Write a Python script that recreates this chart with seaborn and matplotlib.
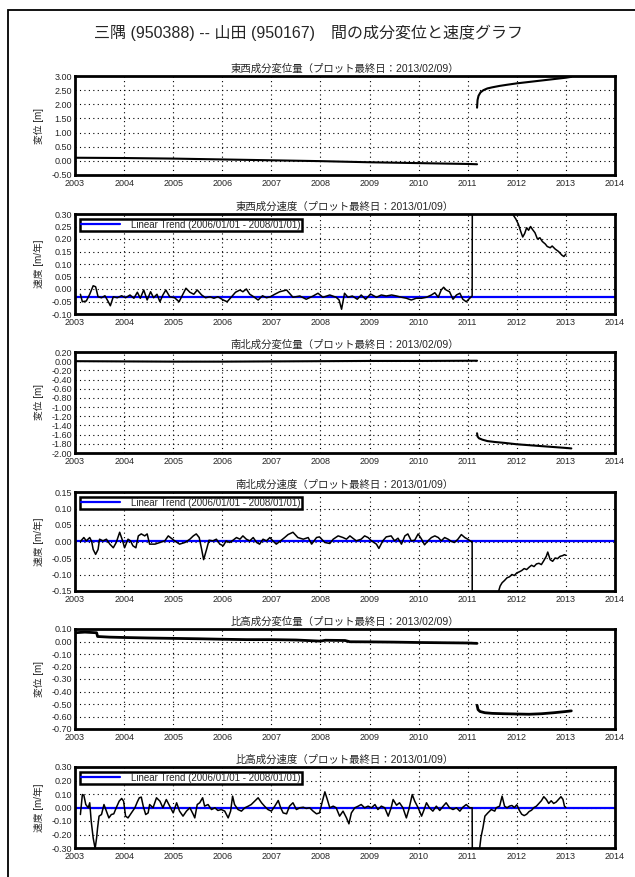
import pandas as pd
import matplotlib
matplotlib.use("Agg")
import matplotlib.pyplot as plt
import matplotlib.ticker as mticker
from matplotlib.patches import Rectangle
import seaborn as sns

# -------------------------
# Data
# -------------------------
years = list(range(2003, 2015))
trend_label = "Linear Trend (2006/01/01 - 2008/01/01)"

# 東西 displacement [m]
ew_d_pre_t = [2003.0, 2003.5, 2004.0, 2004.5, 2005.0, 2005.5, 2006.0, 2006.5, 2007.0,
              2007.5, 2008.0, 2008.5, 2009.0, 2009.5, 2010.0, 2010.5, 2011.0, 2011.19]
ew_d_pre_v = [0.11, 0.105, 0.10, 0.09, 0.08, 0.065, 0.05, 0.035, 0.02,
              0.005, -0.01, -0.03, -0.05, -0.065, -0.08, -0.095, -0.11, -0.12]
ew_d_post_t = [2011.19, 2011.20, 2011.22, 2011.26, 2011.32, 2011.40, 2011.50, 2011.65,
               2011.80, 2012.0, 2012.25, 2012.5, 2012.75, 2013.0, 2013.11]
ew_d_post_v = [1.88, 2.15, 2.30, 2.42, 2.50, 2.56, 2.60, 2.65,
               2.69, 2.74, 2.79, 2.84, 2.89, 2.94, 2.97]

# 東西 velocity [m/yr]
ew_v_pre_t = [2003.11, 2003.15, 2003.23, 2003.30, 2003.37, 2003.42, 2003.47, 2003.54, 2003.61,
              2003.67, 2003.72, 2003.78, 2003.86, 2003.95, 2004.03, 2004.12, 2004.20, 2004.27,
              2004.33, 2004.40, 2004.47, 2004.54, 2004.60, 2004.67, 2004.73, 2004.79, 2004.85,
              2004.93, 2005.03, 2005.12, 2005.19, 2005.26, 2005.34, 2005.42, 2005.49, 2005.58,
              2005.66, 2005.75, 2005.83, 2005.91, 2006.02, 2006.10, 2006.19, 2006.27, 2006.36,
              2006.42, 2006.49, 2006.56, 2006.64, 2006.73, 2006.82, 2006.90, 2006.98, 2007.07,
              2007.17, 2007.31, 2007.44, 2007.58, 2007.71, 2007.85, 2007.95, 2008.05, 2008.19,
              2008.32, 2008.38, 2008.43, 2008.49, 2008.56, 2008.65, 2008.75, 2008.83, 2008.92,
              2009.02, 2009.14, 2009.24, 2009.34, 2009.45, 2009.55, 2009.65, 2009.75, 2009.85,
              2009.95, 2010.06, 2010.16, 2010.26, 2010.33, 2010.40, 2010.46, 2010.51, 2010.56,
              2010.63, 2010.70, 2010.77, 2010.84, 2010.90, 2010.97, 2011.04, 2011.09, 2011.10]
ew_v_pre_v = [-0.021, -0.051, -0.048, -0.021, 0.013, 0.009, -0.031, -0.035, -0.027,
              -0.048, -0.067, -0.031, -0.035, -0.027, -0.035, -0.024, -0.037, -0.013,
              -0.037, -0.004, -0.044, -0.011, -0.035, -0.021, -0.051, -0.024, -0.004,
              -0.031, -0.035, -0.051, -0.024, 0.003, -0.013, -0.021, -0.004, -0.024,
              -0.035, -0.031, -0.037, -0.031, -0.044, -0.051, -0.031, -0.013, -0.004,
              -0.011, 0.000, -0.021, -0.031, -0.044, -0.027, -0.035, -0.031, -0.021,
              -0.011, -0.004, -0.033, -0.028, -0.041, -0.028, -0.017, -0.033, -0.024,
              -0.033, -0.044, -0.081, -0.017, -0.033, -0.028, -0.041, -0.024, -0.041,
              -0.020, -0.033, -0.024, -0.028, -0.024, -0.028, -0.033, -0.037, -0.044,
              -0.037, -0.037, -0.033, -0.024, -0.015, -0.033, -0.004, 0.007, -0.004,
              -0.011, -0.041, -0.024, -0.017, -0.041, -0.051, -0.037, -0.028, 1.0]
ew_v_post_t = [2011.88, 2011.93, 2011.98, 2012.03, 2012.08, 2012.12, 2012.16, 2012.20, 2012.24,
               2012.28, 2012.32, 2012.37, 2012.42, 2012.47, 2012.52, 2012.58, 2012.62, 2012.68,
               2012.72, 2012.78, 2012.85, 2012.92, 2012.96, 2013.00]
ew_v_post_v = [0.33, 0.295, 0.28, 0.26, 0.23, 0.208, 0.222, 0.245, 0.235,
               0.25, 0.238, 0.225, 0.20, 0.205, 0.19, 0.18, 0.17, 0.165,
               0.172, 0.16, 0.15, 0.135, 0.13, 0.14]
ew_trend = -0.030

# 南北 displacement [m]
ns_d_pre_t = [2003.0, 2004.0, 2005.0, 2006.0, 2007.0, 2008.0, 2009.0, 2010.0, 2011.19]
ns_d_pre_v = [0.0, -0.005, -0.01, -0.01, -0.005, 0.0, 0.005, 0.005, 0.01]
ns_d_post_t = [2011.19, 2011.20, 2011.23, 2011.30, 2011.40, 2011.55, 2011.75, 2012.0,
               2012.25, 2012.5, 2012.75, 2013.0, 2013.11]
ns_d_post_v = [-1.57, -1.64, -1.68, -1.71, -1.74, -1.76, -1.78, -1.81,
               -1.83, -1.85, -1.87, -1.89, -1.90]

# 南北 velocity [m/yr]
ns_v_pre_t = [2003.11, 2003.18, 2003.23, 2003.30, 2003.34, 2003.37, 2003.42, 2003.47, 2003.50,
              2003.57, 2003.64, 2003.71, 2003.78, 2003.84, 2003.91, 2003.97, 2004.01, 2004.08,
              2004.13, 2004.18, 2004.24, 2004.29, 2004.35, 2004.42, 2004.47, 2004.52, 2004.63,
              2004.73, 2004.83, 2004.90, 2004.96, 2005.03, 2005.13, 2005.24, 2005.34, 2005.41,
              2005.47, 2005.53, 2005.58, 2005.62, 2005.68, 2005.73, 2005.81, 2005.88, 2005.95,
              2006.02, 2006.08, 2006.15, 2006.22, 2006.29, 2006.36, 2006.42, 2006.49, 2006.56,
              2006.63, 2006.70, 2006.76, 2006.83, 2006.90, 2006.97, 2007.03, 2007.10, 2007.17,
              2007.27, 2007.34, 2007.44, 2007.54, 2007.65, 2007.75, 2007.82, 2007.92, 2007.98,
              2008.09, 2008.19, 2008.26, 2008.36, 2008.46, 2008.53, 2008.60, 2008.66, 2008.73,
              2008.83, 2008.90, 2008.97, 2009.04, 2009.14, 2009.19, 2009.27, 2009.34, 2009.44,
              2009.51, 2009.58, 2009.65, 2009.72, 2009.78, 2009.85, 2009.92, 2009.99, 2010.06,
              2010.12, 2010.19, 2010.26, 2010.33, 2010.40, 2010.46, 2010.53, 2010.60, 2010.67,
              2010.73, 2010.80, 2010.87, 2010.94, 2011.00, 2011.07, 2011.09, 2011.10]
ns_v_pre_v = [0.000, 0.012, 0.002, 0.012, 0.000, -0.024, -0.039, -0.024, 0.007,
              0.002, 0.007, -0.008, -0.019, -0.003, 0.028, 0.002, -0.019, 0.007,
              0.002, -0.013, -0.019, 0.017, 0.023, 0.017, 0.023, -0.008, -0.008,
              -0.003, 0.002, 0.017, 0.010, 0.002, -0.008, -0.003, 0.007, 0.017,
              0.023, 0.012, -0.024, -0.055, -0.024, 0.004, 0.002, 0.007, -0.008,
              -0.013, 0.002, -0.003, 0.004, 0.012, 0.007, 0.017, 0.007, 0.002,
              0.012, -0.003, -0.008, 0.007, 0.002, 0.012, 0.002, -0.008, 0.000,
              0.012, 0.021, 0.028, 0.012, 0.007, 0.012, -0.008, 0.012, 0.014,
              -0.003, -0.006, 0.007, 0.017, 0.012, 0.007, 0.017, 0.010, 0.002,
              0.007, 0.017, 0.012, 0.002, -0.008, -0.021, 0.002, 0.014, 0.017,
              0.002, 0.010, -0.008, 0.017, 0.023, 0.002, 0.004, 0.023, 0.007,
              -0.010, 0.002, 0.012, 0.017, 0.012, 0.002, 0.012, 0.007, 0.000,
              -0.003, 0.007, 0.021, 0.012, 0.007, 0.000, 0.000, -1.0]
ns_v_post_t = [2011.60, 2011.63, 2011.66, 2011.70, 2011.75, 2011.80, 2011.85, 2011.90, 2011.95,
               2012.00, 2012.05, 2012.10, 2012.15, 2012.20, 2012.25, 2012.30, 2012.35, 2012.40,
               2012.45, 2012.50, 2012.55, 2012.60, 2012.63, 2012.68, 2012.73, 2012.78, 2012.83,
               2012.88, 2012.93, 2012.97, 2013.00]
ns_v_post_v = [-0.16, -0.15, -0.135, -0.125, -0.118, -0.11, -0.107, -0.100, -0.103,
               -0.095, -0.092, -0.088, -0.082, -0.085, -0.078, -0.072, -0.076, -0.068,
               -0.066, -0.070, -0.058, -0.045, -0.032, -0.055, -0.060, -0.050, -0.052,
               -0.045, -0.043, -0.040, -0.042]
ns_trend = 0.003

# 比高 displacement [m]
ud_d_pre_t = [2003.0, 2003.2, 2003.44, 2003.46, 2003.7, 2004.0, 2004.5, 2005.0, 2005.5, 2006.0,
              2006.5, 2007.0, 2007.5, 2008.0, 2008.1, 2008.5, 2008.6, 2009.0, 2009.5, 2010.0,
              2010.5, 2011.0, 2011.19]
ud_d_pre_v = [0.07, 0.075, 0.07, 0.04, 0.035, 0.032, 0.028, 0.025, 0.022, 0.018,
              0.015, 0.015, 0.012, 0.003, 0.01, 0.008, -0.002, -0.003, -0.005, -0.008,
              -0.01, -0.012, -0.015]
ud_d_post_t = [2011.19, 2011.21, 2011.25, 2011.35, 2011.5, 2011.75, 2012.0, 2012.25, 2012.5,
               2012.75, 2013.0, 2013.11]
ud_d_post_v = [-0.51, -0.545, -0.56, -0.57, -0.575, -0.578, -0.58, -0.582, -0.578,
               -0.57, -0.56, -0.555]

# 比高 velocity [m/yr]
ud_v_pre_t = [2003.11, 2003.15, 2003.18, 2003.22, 2003.27, 2003.30, 2003.33, 2003.37, 2003.41,
              2003.44, 2003.46, 2003.49, 2003.54, 2003.59, 2003.64, 2003.69, 2003.74, 2003.79,
              2003.84, 2003.90, 2003.95, 2003.99, 2004.03, 2004.08, 2004.15, 2004.22, 2004.27,
              2004.31, 2004.35, 2004.39, 2004.44, 2004.49, 2004.52, 2004.59, 2004.66, 2004.73,
              2004.79, 2004.86, 2004.93, 2005.00, 2005.07, 2005.13, 2005.20, 2005.27, 2005.34,
              2005.41, 2005.44, 2005.49, 2005.54, 2005.60, 2005.64, 2005.71, 2005.78, 2005.85,
              2005.91, 2005.98, 2006.05, 2006.12, 2006.17, 2006.21, 2006.25, 2006.32, 2006.39,
              2006.46, 2006.53, 2006.59, 2006.66, 2006.73, 2006.80, 2006.86, 2006.93, 2007.00,
              2007.07, 2007.14, 2007.19, 2007.24, 2007.31, 2007.37, 2007.44, 2007.51, 2007.58,
              2007.65, 2007.71, 2007.78, 2007.85, 2007.92, 2007.98, 2008.04, 2008.09, 2008.14,
              2008.19, 2008.26, 2008.32, 2008.39, 2008.46, 2008.53, 2008.58, 2008.63, 2008.70,
              2008.77, 2008.83, 2008.90, 2008.97, 2009.04, 2009.11, 2009.17, 2009.24, 2009.31,
              2009.38, 2009.44, 2009.48, 2009.55, 2009.61, 2009.68, 2009.75, 2009.80, 2009.87,
              2009.92, 2009.99, 2010.06, 2010.10, 2010.16, 2010.22, 2010.29, 2010.36, 2010.43,
              2010.50, 2010.56, 2010.63, 2010.70, 2010.77, 2010.84, 2010.90, 2010.97, 2011.04,
              2011.09, 2011.10]
ud_v_pre_v = [-0.052, 0.096, 0.091, 0.022, -0.002, 0.035, -0.101, -0.225, -0.305,
              -0.225, -0.151, -0.064, -0.052, 0.022, -0.027, -0.077, -0.052, -0.047,
              -0.002, 0.047, 0.067, 0.047, -0.064, -0.077, -0.040, -0.002, 0.042,
              0.072, 0.077, 0.010, -0.052, -0.040, 0.022, -0.002, 0.072, 0.047,
              -0.002, 0.059, 0.010, -0.040, 0.035, -0.027, -0.064, -0.027, -0.002,
              -0.052, -0.077, 0.022, 0.035, 0.072, 0.010, 0.022, -0.015, -0.002,
              -0.022, -0.015, -0.027, -0.077, -0.027, 0.084, 0.022, -0.015, -0.027,
              -0.002, 0.010, 0.022, 0.047, 0.072, 0.035, 0.010, -0.015, -0.027,
              0.010, 0.052, -0.002, -0.040, -0.047, 0.010, 0.035, -0.015, -0.002,
              0.002, -0.007, -0.002, -0.027, -0.047, -0.040, 0.047, 0.116, 0.059,
              -0.002, 0.010, -0.002, -0.064, -0.027, -0.077, -0.121, -0.040, -0.002,
              0.010, 0.022, -0.002, 0.010, -0.002, 0.022, -0.015, 0.010, -0.002,
              -0.064, -0.002, 0.059, 0.017, 0.035, -0.002, -0.077, -0.015, 0.096,
              0.047, -0.002, -0.064, -0.027, 0.035, -0.002, -0.027, 0.010, -0.022,
              0.010, 0.035, -0.002, -0.015, -0.002, -0.027, 0.002, 0.022, -0.002,
              -0.002, -1.0]
ud_v_post_t = [2011.24, 2011.27, 2011.31, 2011.35, 2011.41, 2011.48, 2011.55, 2011.58, 2011.65,
               2011.70, 2011.75, 2011.80, 2011.85, 2011.90, 2011.95, 2012.00, 2012.05, 2012.10,
               2012.15, 2012.20, 2012.25, 2012.30, 2012.35, 2012.40, 2012.45, 2012.50, 2012.55,
               2012.60, 2012.65, 2012.70, 2012.75, 2012.80, 2012.85, 2012.90, 2012.94, 2012.97,
               2013.00]
ud_v_post_v = [-0.31, -0.22, -0.15, -0.064, -0.040, -0.015, -0.027, -0.002, 0.010,
               0.084, 0.010, -0.002, 0.010, 0.015, 0.000, 0.020, -0.020, -0.050,
               -0.060, -0.050, -0.030, -0.020, 0.000, 0.010, 0.030, 0.050, 0.080,
               0.060, 0.030, 0.050, 0.030, 0.040, 0.060, 0.080, 0.060, 0.010,
               0.000]
ud_trend = 0.000

panels = [
    ("東西成分変位量（プロット最終日：2013/02/09）", "変位 [m]", (-0.5, 3.0), 0.5,
     [(ew_d_pre_t, ew_d_pre_v), (ew_d_post_t, ew_d_post_v)], None, 1.5),
    ("東西成分速度（プロット最終日：2013/01/09）", "速度 [m/年]", (-0.10, 0.30), 0.05,
     [(ew_v_pre_t, ew_v_pre_v), (ew_v_post_t, ew_v_post_v)], ew_trend, 1.1),
    ("南北成分変位量（プロット最終日：2013/02/09）", "変位 [m]", (-2.0, 0.2), 0.2,
     [(ns_d_pre_t, ns_d_pre_v), (ns_d_post_t, ns_d_post_v)], None, 1.5),
    ("南北成分速度（プロット最終日：2013/01/09）", "速度 [m/年]", (-0.15, 0.15), 0.05,
     [(ns_v_pre_t, ns_v_pre_v), (ns_v_post_t, ns_v_post_v)], ns_trend, 1.1),
    ("比高成分変位量（プロット最終日：2013/02/09）", "変位 [m]", (-0.7, 0.1), 0.1,
     [(ud_d_pre_t, ud_d_pre_v), (ud_d_post_t, ud_d_post_v)], None, 2.0),
    ("比高成分速度（プロット最終日：2013/01/09）", "速度 [m/年]", (-0.30, 0.30), 0.10,
     [(ud_v_pre_t, ud_v_pre_v), (ud_v_post_t, ud_v_post_v)], ud_trend, 1.1),
]

# pixel layout of the panels (top, bottom)
W, H = 635, 877
ax_left, ax_right = 75, 615
panel_px = [(76, 175), (214, 314), (352, 453), (492, 591), (629, 729), (767, 848)]

# -------------------------
# Style
# -------------------------
sns.set_style("white")
plt.rcParams['font.family'] = ['Liberation Sans', 'Noto Sans CJK JP', 'DejaVu Sans']
plt.rcParams['axes.unicode_minus'] = False

fig = plt.figure(figsize=(W / 100, H / 100), dpi=100)

fig.add_artist(Rectangle((8 / W, -0.05), 1.2, 1 - 10 / H + 0.05,
                         transform=fig.transFigure, fill=False,
                         edgecolor='black', lw=1.3))
fig.text(308 / W, 1 - 33 / H,
         "三隅 (950388) -- 山田 (950167)　間の成分変位と速度グラフ",
         ha='center', va='center', fontsize=11.5)

# -------------------------
# Panels
# -------------------------
for (title, ylabel, ylim, step, segs, trend, lw), (top, bot) in zip(panels, panel_px):
    ax = fig.add_axes([ax_left / W, 1 - bot / H, (ax_right - ax_left) / W, (bot - top) / H])

    frames = []
    for i, (t, v) in enumerate(segs):
        frames.append(pd.DataFrame({'t': t, 'v': v, 'seg': i}))
    df = pd.concat(frames, ignore_index=True)

    if trend is not None:
        tdf = pd.DataFrame({'t': [years[0], years[-1]], 'v': [trend, trend]})
        sns.lineplot(data=tdf, x='t', y='v', color='#0000ff', lw=1.6, ax=ax, zorder=2,
                     label=trend_label)

    sns.lineplot(data=df, x='t', y='v', units='seg', estimator=None, sort=False,
                 color='black', lw=lw, ax=ax, zorder=3)

    ax.set_xlim(years[0], years[-1])
    ax.set_xticks(years)
    ax.set_xticklabels([str(y) for y in years])
    ax.set_ylim(*ylim)
    ax.yaxis.set_major_locator(mticker.MultipleLocator(step))
    ax.yaxis.set_major_formatter(mticker.FormatStrFormatter('%.2f'))
    ax.grid(True, color='black', linestyle=(0, (1, 3)), lw=0.8)
    ax.tick_params(length=0, labelsize=6.5, pad=2)
    ax.tick_params(axis='x', pad=3)
    for s in ax.spines.values():
        s.set_linewidth(2.0)
        s.set_color('black')
    ax.set_xlabel('')
    ax.set_ylabel(ylabel, fontsize=7)
    ax.yaxis.set_label_coords(-0.058, 0.5)
    ax.set_title(title, fontsize=7.5, pad=3)

    if trend is not None:
        leg = ax.legend(loc='upper left', fontsize=7, frameon=True, fancybox=False,
                        edgecolor='black', framealpha=1, borderpad=0.1,
                        handlelength=4, handletextpad=1.2, borderaxespad=0.5)
        leg.get_frame().set_linewidth(1.8)
    else:
        if ax.get_legend() is not None:
            ax.get_legend().remove()

fig.savefig('out.png', dpi=100)
